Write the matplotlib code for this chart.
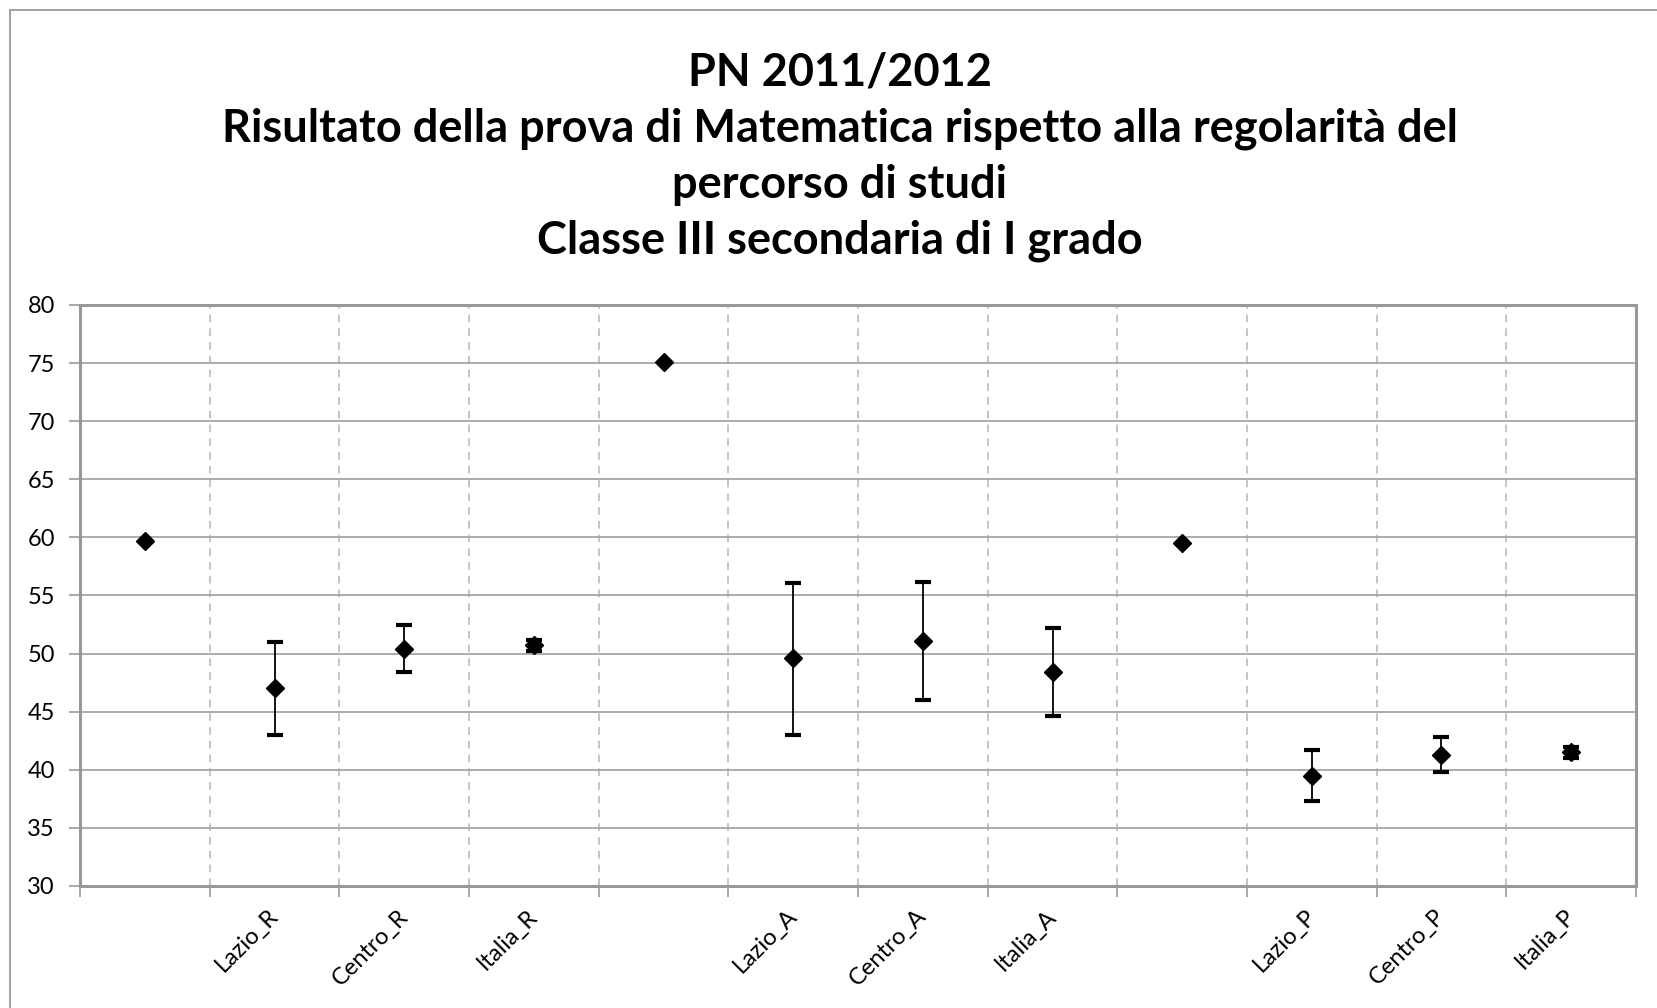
import numpy as np
import matplotlib; matplotlib.use('Agg')
import matplotlib.pyplot as plt
import matplotlib.transforms as mtrans
from matplotlib.patches import Rectangle

labels = ["", "Lazio_R", "Centro_R", "Italia_R", "", "Lazio_A", "Centro_A", "Italia_A",
          "", "Lazio_P", "Centro_P", "Italia_P"]
means = [59.7, 47.0, 50.4, 50.7, 75.1, 49.6, 51.1, 48.4, 59.5, 39.5, 41.3, 41.5]
lows  = [59.7, 43.0, 48.4, 50.2, 75.1, 43.0, 46.0, 44.6, 59.5, 37.3, 39.8, 41.0]
highs = [59.7, 51.0, 52.5, 51.2, 75.1, 56.1, 56.2, 52.2, 59.5, 41.7, 42.8, 42.0]
has_err = [False, True, True, True, False, True, True, True, False, True, True, True]

title = ("PN 2011/2012\nRisultato della prova di Matematica rispetto alla regolarità del\n"
         "percorso di studi\nClasse III secondaria di I grado")

plt.rcParams['font.family'] = ['Lato', 'DejaVu Sans']
W, H = 1657, 1008
fig = plt.figure(figsize=(W/100, H/100), dpi=100)
ax = fig.add_axes([80/W, 1-886/H, (1636-80)/W, (886-305)/H])

x = np.arange(len(labels))
m = np.array(means); lo = np.array(lows); hi = np.array(highs)
e = np.where(has_err, 1, 0)
yerr = np.vstack([(m-lo)*e, (hi-m)*e])
idx = np.array(has_err)
ax.errorbar(x[idx], m[idx], yerr=yerr[:, idx], fmt='none', ecolor='black', elinewidth=1.3,
            capsize=6, capthick=3, zorder=3)
ax.plot(x, m, 'D', color='black', markersize=9, zorder=4, linestyle='none')

ax.set_xlim(-0.5, 11.5)
ax.set_ylim(30, 80)
ax.set_yticks(range(30, 81, 5))
ax.set_xticks(x)
ax.set_xticklabels(labels, rotation=45, ha='right', fontsize=17)
ax.set_xticks(np.arange(-0.5, 12, 1), minor=True)
ax.tick_params(axis='x', which='major', length=0, pad=14)
ax.tick_params(axis='x', which='minor', length=8, color='#999999', width=1.2)
ax.tick_params(axis='y', length=8, color='#999999', width=1.2, labelsize=17, pad=10)
# nudge rotated labels a little right, like the original
shift = mtrans.ScaledTranslation(8/100, 0, fig.dpi_scale_trans)
for lab in ax.get_xticklabels():
    lab.set_transform(lab.get_transform() + shift)

ax.grid(axis='y', color='#a6a6a6', lw=1.3, zorder=0)
ax.grid(axis='x', which='minor', color='#b5b5b5', lw=1.1, linestyle=(0, (5, 4)), zorder=0)
ax.set_axisbelow(True)
for sp in ax.spines.values():
    sp.set_color('#999999'); sp.set_linewidth(2.2)

fig.text(840/W, 1-52/H, title, ha='center', va='top', fontsize=32.5, fontweight='bold',
         linespacing=1.4)

fig.add_artist(Rectangle((10/W, -0.1), 1.2, (H-10)/H + 0.1, transform=fig.transFigure,
                         fill=False, ec='#999999', lw=1.3))

plt.savefig("out.png", dpi=100)
print("Saved out.png")
